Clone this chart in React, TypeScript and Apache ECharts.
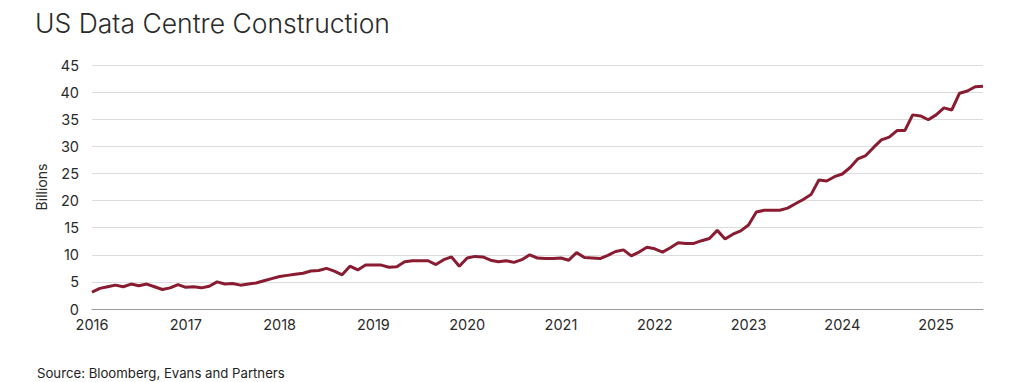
import React, { useEffect, useRef } from "react";
import * as echarts from "echarts";

// Monthly values, US data centre construction spending (billions)
const values2016 = [3.1, 3.8, 4.1, 4.4, 4.1, 4.6, 4.3, 4.6, 4.1, 3.6, 3.9, 4.5];
const values2017 = [4.0, 4.1, 3.9, 4.2, 5.0, 4.6, 4.7, 4.4, 4.6, 4.8, 5.2, 5.6];
const values2018 = [6.0, 6.2, 6.4, 6.6, 7.0, 7.1, 7.5, 7.0, 6.3, 7.9, 7.2, 8.1];
const values2019 = [8.1, 8.1, 7.7, 7.8, 8.7, 8.9, 8.9, 8.9, 8.2, 9.1, 9.6, 7.9];
const values2020 = [9.4, 9.7, 9.6, 9.0, 8.7, 8.9, 8.6, 9.1, 10.0, 9.4, 9.3, 9.3];
const values2021 = [9.4, 9.0, 10.4, 9.5, 9.4, 9.3, 9.9, 10.6, 10.9, 9.8, 10.5, 11.4];
const values2022 = [11.1, 10.5, 11.3, 12.2, 12.1, 12.1, 12.6, 13.0, 14.5, 12.9, 13.8, 14.4];
const values2023 = [15.5, 17.9, 18.2, 18.2, 18.2, 18.6, 19.4, 20.2, 21.1, 23.8, 23.6, 24.4];
const values2024 = [24.9, 26.1, 27.7, 28.3, 29.8, 31.2, 31.7, 32.9, 32.9, 35.8, 35.6, 34.9];
const values2025 = [35.8, 37.1, 36.7, 39.8, 40.2, 41.0, 41.1];

const seriesValues = [
  ...values2016, ...values2017, ...values2018, ...values2019, ...values2020,
  ...values2021, ...values2022, ...values2023, ...values2024, ...values2025,
];

const years = [2016, 2017, 2018, 2019, 2020, 2021, 2022, 2023, 2024, 2025];
const monthNumbers = ["01", "02", "03", "04", "05", "06", "07", "08", "09", "10", "11", "12"];
const categories: string[] = [];
years.forEach((y) => monthNumbers.forEach((m) => categories.push(`${y}-${m}`)));
const months = categories.slice(0, seriesValues.length);

const yTicks = { min: 0, max: 45, interval: 5 };

const titleText = "US Data Centre Construction";
const sourceText = "Source: Bloomberg, Evans and Partners";
const yAxisName = "Billions";

const FONT = "Inter, 'Noto Sans', sans-serif";

export default function App() {
  const ref = useRef<HTMLDivElement>(null);
  useEffect(() => {
    if (!ref.current) return;
    const chart = echarts.init(ref.current, undefined, { renderer: "svg" });
    chart.setOption({
      animation: false,
      backgroundColor: "#ffffff",
      title: {
        text: titleText,
        left: 30,
        top: 4,
        textStyle: { fontFamily: FONT, fontSize: 26.5, fontWeight: 300, color: "#2a2a2a" },
      },
      graphic: [
        {
          type: "text",
          left: 37,
          top: 366,
          style: { text: sourceText, fontFamily: FONT, fontSize: 13.2, fill: "#222" },
        },
      ],
      grid: { left: 92, right: 41, top: 65, bottom: 73, containLabel: false },
      xAxis: {
        type: "category",
        data: months,
        boundaryGap: false,
        axisTick: { show: false },
        axisLine: { lineStyle: { color: "#9a9a9a", width: 1 } },
        axisLabel: {
          interval: (index: number) => index % 12 === 0,
          formatter: (v: string) => v.slice(0, 4),
          fontFamily: FONT,
          fontSize: 14.5,
          color: "#2a2a2a",
          margin: 8,
        },
        splitLine: { show: false },
      },
      yAxis: {
        type: "value",
        min: yTicks.min,
        max: yTicks.max,
        interval: yTicks.interval,
        name: yAxisName,
        nameLocation: "middle",
        nameGap: 44,
        nameTextStyle: { fontFamily: FONT, fontSize: 14, color: "#2a2a2a" },
        axisLine: { show: false },
        axisTick: { show: false },
        axisLabel: { fontFamily: FONT, fontSize: 14.5, color: "#2a2a2a", margin: 13 },
        splitLine: { lineStyle: { color: "#dcdcdc", width: 1.2 } },
      },
      series: [
        {
          type: "line",
          data: seriesValues,
          showSymbol: false,
          symbol: "none",
          lineStyle: { color: "#8a1c32", width: 3 },
          itemStyle: { color: "#8a1c32" },
        },
      ],
    });
    return () => chart.dispose();
  }, []);
  return (
    <div
      ref={ref}
      style={{ position: "fixed", left: 0, top: 0, width: 1024, height: 382, background: "#fff" }}
    />
  );
}
